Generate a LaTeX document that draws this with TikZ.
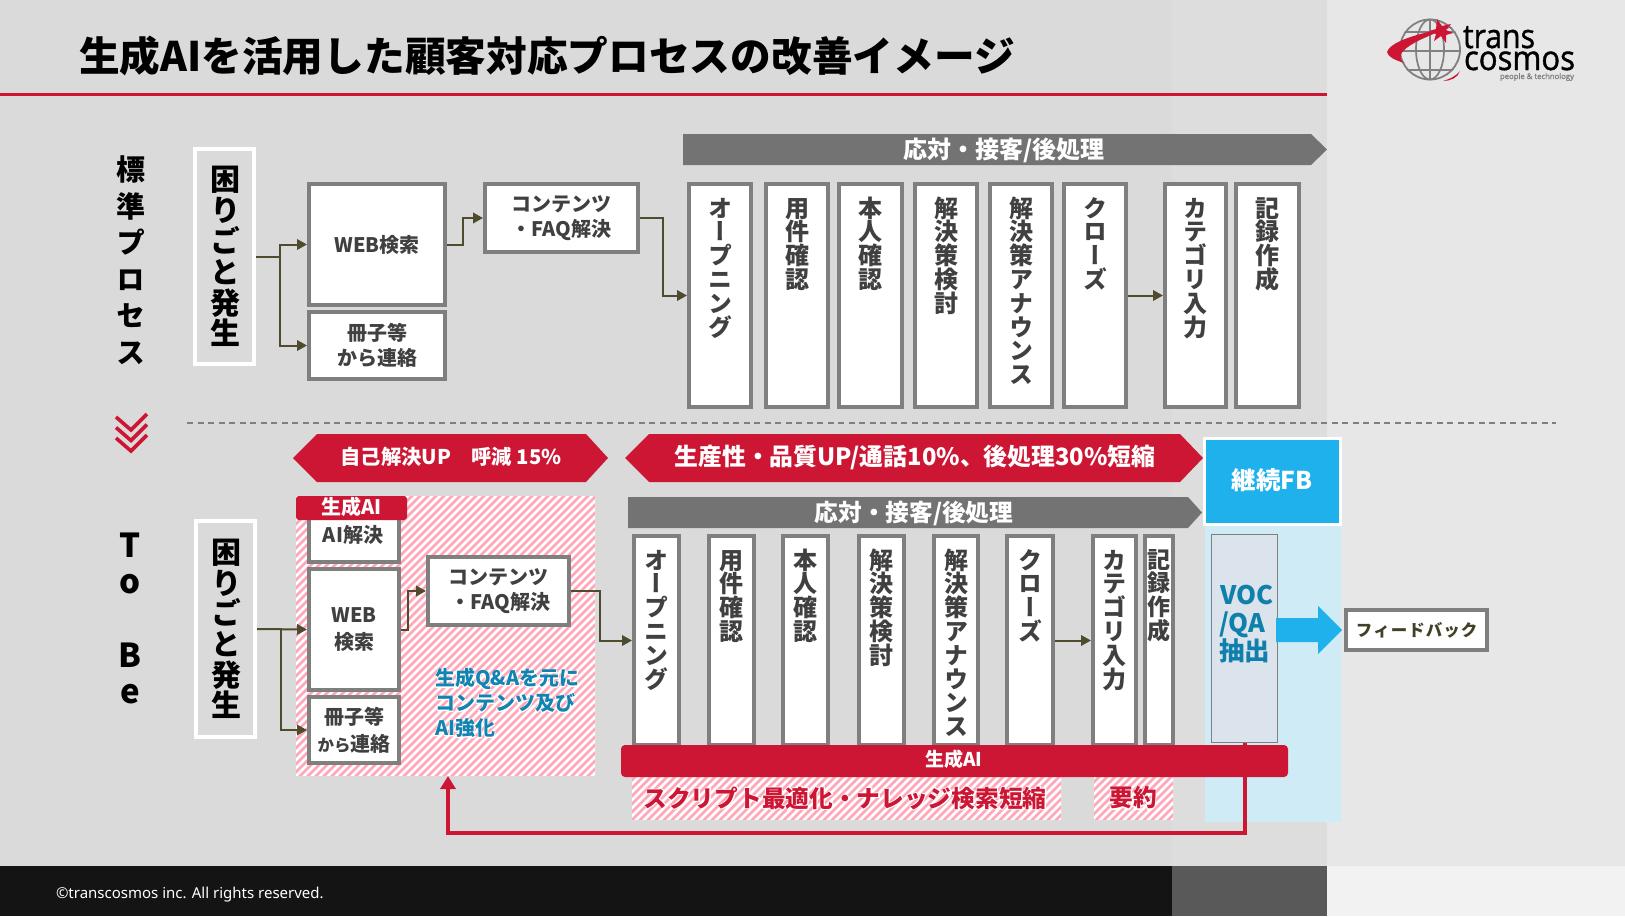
\documentclass[tikz,border=0pt]{standalone}
\usepackage{fontspec}
\usepackage{graphicx}
\usetikzlibrary{arrows.meta,calc}
\setmainfont{Noto Sans CJK JP}
\newfontfamily\vjp[RawFeature=+vert]{Noto Sans CJK JP}
\newfontfamily\halofont[FakeBold=7]{Noto Sans CJK JP Bold}
\newfontfamily\logofont[FakeBold=1.2]{Open Sans}
\newfontfamily\footfont{Noto Sans}
\definecolor{bgA}{HTML}{DADADA}
\definecolor{bgB}{HTML}{DDDDDD}
\definecolor{bgC}{HTML}{E7E7E7}
\definecolor{tcred}{HTML}{CC1633}
\definecolor{boxgray}{HTML}{7F7F7F}
\definecolor{hdrgray}{HTML}{737373}
\definecolor{txtgray}{HTML}{404040}
\definecolor{olive}{HTML}{4F4B2E}
\definecolor{skyb}{HTML}{1FB1EC}
\definecolor{paleb}{HTML}{CFECF6}
\definecolor{vocfill}{HTML}{DBE3EC}
\definecolor{voctxt}{HTML}{0F7FAB}
\definecolor{hatchpink}{HTML}{FFA6B8}
\newcommand\fs[2]{\fontsize{#1}{#2}\selectfont\bfseries}
\makeatletter
\newcommand\vtxt[3]{\vbox{\fontsize{#2}{#1}\selectfont\bfseries\vjp\baselineskip=#1pt\lineskiplimit=-100pt\relax
  \@tfor\vc:=#3\do{\hbox to 1em{\hss\vrule height .88em depth .12em width 0pt\vc\hss}}}}
\makeatother
\newcommand\halotext[1]{\rlap{\color{white}\halofont #1}#1}
\tikzset{
  txt/.style={inner sep=0pt,outer sep=0pt,align=center},
  whitebold/.style={txt,text=white},
  boxed/.style={draw=boxgray,line width=3.6pt,fill=white,inner sep=0pt,outer sep=1.8pt,text=txtgray,align=center},
  problembox/.style={draw=white,line width=3.6pt,fill=bgA,inner sep=0pt,outer sep=1.8pt},
  conn/.style={draw=olive,line width=2pt,-{Triangle[length=10pt,width=10.5pt,fill=olive]}},
  fbline/.style={draw=tcred,line width=4pt,-{Triangle[length=13pt,width=15pt,fill=tcred]}},
}
\newcommand\bxn[7][boxed]{%
  \pgfmathsetmacro\cxv{(#3+#5)/2}\pgfmathsetmacro\cyv{(#4+#6)/2}%
  \pgfmathsetmacro\wv{#5-#3-3.6}\pgfmathsetmacro\hv{#6-#4-3.6}%
  \node[#1,minimum width=\wv pt,minimum height=\hv pt] (#2) at (\cxv,\cyv) {#7};}
\newcommand\colbox[6]{%
  \bxn{#1}{#2}{#3}{#4}{#5}{}%
  \node[txt,anchor=north,text=txtgray,yshift=-14pt] (#1-t) at (#1.north) {\vtxt{23.8}{24}{#6}};}
\begin{document}
\begin{tikzpicture}[x=1pt,y=-1pt]
\useasboundingbox (0,0) rectangle (1625,916);
% backgrounds
\fill[bgA] (0,0) rectangle (1172,916);
\fill[bgB] (1172,0) rectangle (1327,916);
\fill[bgC] (1327,0) rectangle (1625,916);
\fill[black!92] (0,866) rectangle (1172,916);
\fill[black!65] (1172,866) rectangle (1327,916);
\fill[black!5] (1327,866) rectangle (1625,916);
\fill[tcred] (0,92.5) rectangle (1327,95.5);
% title and footer
\node[txt,anchor=west] (title) at (79,56) {\fs{40.7}{44}生成AIを活用した顧客対応プロセスの改善イメージ};
\node[txt,anchor=west,text=white] (foot) at (56,895) {\footfont\fontsize{15}{18}\selectfont ©transcosmos inc. All rights reserved.};
% logo
\begin{scope}
\clip (1430,49.5) circle (31);
\foreach \yy in {32,51,70}{\draw[black!50,line width=1.7pt] (1395,\yy) -- (1465,\yy);}
\end{scope}
\draw[black!50,line width=1.8pt] (1430,49.5) circle (30);
\draw[black!50,line width=1.7pt] (1430,49.5) ellipse (14 and 30);
\draw[black!50,line width=1.7pt] (1430,19.5) -- (1430,79.5);
\fill[tcred] (1452,27) .. controls (1425,32) and (1391,40) .. (1387,52) .. controls (1388,57) and (1395,60) .. (1404,63) .. controls (1396,56) and (1398,46) .. (1452,27) -- cycle;
\fill[tcred] (1443,81) .. controls (1450,81) and (1458,78) .. (1460,71) .. controls (1456,76) and (1450,79) .. (1443,81) -- cycle;
\fill[tcred] (1437,19) -- (1442,26) -- (1451,24) -- (1446,30) -- (1453,33) -- (1446,35) -- (1446,43) -- (1441,36) -- (1434,41) -- (1436,34) -- (1429,31) -- (1436,29) -- cycle;
\node[txt,anchor=base west] (logoA) at (1463,48) {\resizebox{72pt}{22pt}{\logofont trans}};
\node[txt,anchor=base west] (logoB) at (1464,70) {\resizebox{111pt}{18.5pt}{\logofont cosmos}};
\node[txt,anchor=base east,text=black!50] (logoC) at (1574,79) {\resizebox{74pt}{!}{\logofont people \& technology}};
% section labels
\node[txt,anchor=north,text=black] (lblStd) at (131,155) {\vtxt{36.6}{29}{標準プロセス}};
\foreach \nm/\ch/\yy in {lt/T/545,lo/o/584,lb/B/655,le/e/694}{
  \node[txt,text=black,font=\fs{33}{36}] (\nm) at (130,\yy) {\ch};}
% chevrons
\foreach \dd in {0,10.5,21}{
  \draw[tcred,line width=3.6pt] (116,417+\dd) -- (131,430+\dd) -- (147,414+\dd);}
\draw[boxgray,line width=1.4pt,dash pattern=on 6pt off 4.5pt] (187,423) -- (1556,423);
% hatch
\begin{scope}
\clip (296,496) rectangle (595,776) (632,777) rectangle (1061,820) (1094,777) rectangle (1173,820);
\fill[white] (290,490) rectangle (1180,825);
\foreach \k in {-640,-632,...,1200}{\draw[hatchpink,line width=2.6pt] (\k,900) -- (\k+900,0);}
\end{scope}
% TOP ROW
\bxn[problembox]{probA}{193}{147}{256}{366}{}
\node[txt,anchor=north,text=black] (probAt) at (225,164) {\vtxt{30.9}{30}{困りごと発生}};
\bxn[boxed,font=\fs{20}{25}]{webA}{307}{182}{447}{307}{\raisebox{2pt}{WEB検索}}
\bxn[boxed,font=\fs{20}{25}]{bookA}{307}{310}{447}{381}{冊子等\\から連絡}
\bxn[boxed,font=\fs{20}{25.5}]{cntA}{483}{182}{640}{254}{コンテンツ\\・FAQ解決}
\fill[hdrgray] (683,134) -- (1311,134) -- (1327,149.5) -- (1311,165) -- (683,165) -- cycle;
\node[whitebold] (hdrA) at (1004,150) {\fs{24}{25}応対・接客/後処理};
\colbox{a1}{687}{182}{753}{409}{オープニング}
\colbox{a2}{764}{182}{830}{409}{用件確認}
\colbox{a3}{837}{182}{904}{409}{本人確認}
\colbox{a4}{913}{182}{979}{409}{解決策検討}
\colbox{a5}{988}{182}{1054}{409}{解決策アナウンス}
\colbox{a6}{1062}{182}{1128}{409}{クローズ}
\colbox{a7}{1163}{182}{1228}{409}{カテゴリ入力}
\colbox{a8}{1234}{182}{1301}{409}{記録作成}
\draw[conn] (probA.east) -- ++(24,0) |- (webA.west);
\draw[conn] (probA.east) -- ++(24,0) |- (bookA.west);
\draw[conn] (webA.east) -- ++(16,0) |- (cntA.west);
\draw[conn] (cntA.east) -- ++(23,0) |- (a1.west);
\draw[conn] (a6.east) -- (a7.west);
% hexagons
\fill[tcred] (293,458) -- (317,434) -- (586,434) -- (608,458) -- (586,482) -- (317,482) -- cycle;
\node[whitebold] (hexA) at (451,457) {\fs{20.3}{25}自己解決UP　呼減 15\%};
\fill[tcred] (625,458) -- (649,434) -- (1180,434) -- (1203,458) -- (1180,482) -- (649,482) -- cycle;
\node[whitebold] (hexB) at (915,457) {\fs{23.8}{28}生産性・品質UP/通話10\%、後処理30\%短縮};
% FB panel
\fill[paleb] (1205,526) rectangle (1341,822);
\node[draw=white,line width=3pt,fill=skyb,inner sep=0pt,outer sep=1.5pt,minimum width=136pt,minimum height=86pt] (fb) at (1272.5,481.5) {};
\node[whitebold] (fbt) at (1272,480) {\fs{24.5}{28}継続FB};
\node[draw=boxgray,line width=1pt,fill=vocfill,inner sep=0pt,outer sep=0.5pt,minimum width=66pt,minimum height=208pt] (voc) at (1244.5,638.5) {};
\node[txt,anchor=west,align=left,text=voctxt,font=\fs{25.5}{28.4}] (voct) at (1219,624) {\hspace{1pt}VOC\\/QA\\抽出};
\fill[skyb] (1276,618) -- (1318,618) -- (1318,606) -- (1342,630) -- (1318,654) -- (1318,642) -- (1276,642) -- cycle;
\bxn{fdb}{1344}{608}{1489}{652}{\textcolor{olive!85!black}{\fs{16.5}{20}フ\kern1pt ィ\kern1pt ー\kern1pt ド\kern1pt バ\kern1pt ッ\kern1pt ク}}
% LOWER ROW
\bxn[problembox]{probB}{194}{519}{257}{739}{}
\node[txt,anchor=north,text=black] (probBt) at (226,537) {\vtxt{30.7}{30}{困りごと発生}};
\bxn{aiB}{307}{505}{401}{564}{}
\node[txt,text=txtgray] (aiBt) at (353,535) {\fs{20}{25}AI解決};
\bxn[boxed,font=\fs{20}{26.5}]{webB}{307}{567}{401}{692}{WEB\\検索}
\bxn[boxed,font=\fs{20}{27}]{bookB}{307}{695}{401}{765}{冊子等\\{\fontsize{16.5}{27}\selectfont から}連絡}
\node[fill=tcred,rounded corners=3pt,minimum width=111pt,minimum height=24pt,inner sep=0pt,outer sep=0pt] (aiTag) at (351.5,508) {};
\node[whitebold] (aiTagT) at (351.5,507) {\fs{20}{24}生成AI};
\bxn[boxed,font=\fs{20}{25.5}]{cntB}{426}{555}{571}{627}{コンテンツ\\\hspace{4pt}・FAQ解決}
\node[txt,anchor=west,align=left,text=voctxt!90!skyb,font=\fs{20}{25}] (hatchT) at (435,703) {\halotext{生成Q\&Aを元に}\\\halotext{コンテンツ及び}\\\halotext{AI強化}};
\fill[hdrgray] (628,497) -- (1188,497) -- (1202,512.5) -- (1188,528) -- (628,528) -- cycle;
\node[whitebold] (hdrB) at (914,513) {\fs{23.7}{25}応対・接客/後処理};
\colbox{b1}{632}{534}{681}{747}{オープニング}
\colbox{b2}{707}{534}{756}{747}{用件確認}
\colbox{b3}{781}{534}{830}{747}{本人確認}
\colbox{b4}{857}{534}{906}{747}{解決策検討}
\colbox{b5}{932}{534}{980}{747}{解決策アナウンス}
\colbox{b6}{1005}{534}{1055}{747}{クローズ}
\colbox{b7}{1091}{534}{1138}{747}{カテゴリ入力}
\bxn{b8}{1143}{534}{1175}{747}{}
\node[txt,anchor=north,text=txtgray,yshift=-14pt] (b8-t) at (b8.north) {\vtxt{23.6}{23}{記録作成}};
\draw[conn] (probB.east) -- (webB.west);
\draw[conn] (probB.east) -- ++(24,0) |- (bookB.west);
\draw[conn] (webB.east) -- ++(7,0) |- (cntB.west);
\draw[conn] (cntB.east) -- ++(29,0) |- (b1.west);
\draw[conn] (b6.east) -- (b7.west);
% feedback line
\coordinate (panelEnd) at (448,776);
\draw[fbline] (voc.south) -- (voc.south |- 0,833) -| (panelEnd);
\node[fill=tcred,rounded corners=4pt,minimum width=667pt,minimum height=32pt,inner sep=0pt,outer sep=0pt] (bar) at (954.5,761) {};
\node[whitebold] (bart) at (954,759) {\fs{19}{22}生成AI};
\node[txt,text=tcred] (scr) at (845,798) {\fs{23.7}{28}\halotext{スクリプト最適化・ナレッジ検索短縮}};
\node[txt,text=tcred] (sum) at (1133,798) {\fs{23.7}{28}\halotext{要約}};
\end{tikzpicture}
\end{document}
